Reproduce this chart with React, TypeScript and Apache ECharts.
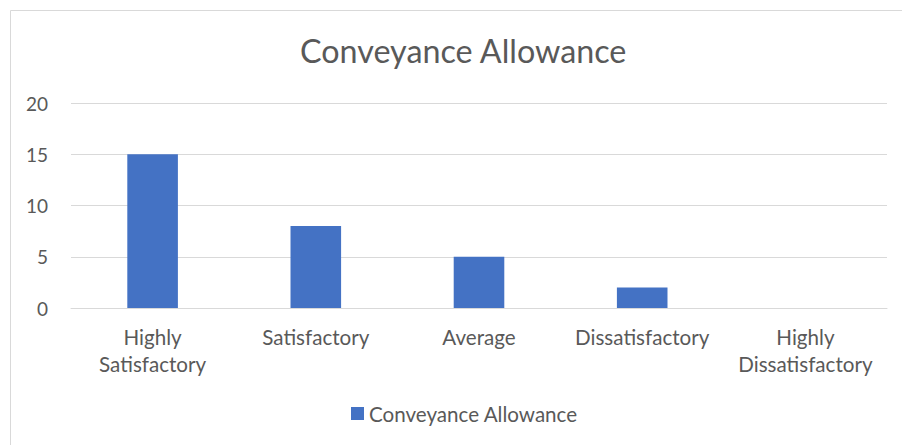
import React, { useEffect, useRef } from "react";
import * as echarts from "echarts";

const categories = ["Highly\nSatisfactory", "Satisfactory", "Average", "Dissatisfactory", "Highly\nDissatisfactory"];
const values = [15, 8, 5, 2, 0];
const seriesName = "Conveyance Allowance";
const titleText = "Conveyance Allowance";

export default function App() {
  const ref = useRef<HTMLDivElement>(null);
  useEffect(() => {
    const chart = echarts.init(ref.current!, null, { renderer: "svg" });
    const font = "Lato, 'Open Sans', sans-serif";
    chart.setOption({
      animation: false,
      backgroundColor: "#ffffff",
      title: {
        text: titleText,
        left: 295,
        top: 29,
        textStyle: { fontFamily: font, fontSize: 32.3, fontWeight: "normal", color: "#595959" },
      },
      graphic: [
        {
          type: "rect",
          shape: { x: 10.5, y: 10.5, width: 920, height: 460 },
          style: { fill: "none", stroke: "#d9d9d9", lineWidth: 1 },
          silent: true,
        },
      ],
      legend: {
        bottom: 16,
        left: 346,
        itemWidth: 13,
        itemHeight: 13,
        itemGap: 6,
        textStyle: { fontFamily: font, fontSize: 20.6, color: "#595959" },
        data: [{ name: seriesName, icon: "rect" }],
      },
      grid: { left: 71, right: 15, top: 103, bottom: 137 },
      xAxis: {
        type: "category",
        data: categories,
        axisLine: { lineStyle: { color: "#d9d9d9" } },
        axisTick: { show: false },
        axisLabel: {
          interval: 0,
          fontFamily: font,
          fontSize: 20.6,
          color: "#595959",
          lineHeight: 27,
          margin: 15,
        },
      },
      yAxis: {
        type: "value",
        min: 0,
        max: 20,
        interval: 5,
        axisLine: { show: false },
        axisTick: { show: false },
        splitLine: { lineStyle: { color: "#d9d9d9" } },
        axisLabel: { fontFamily: font, fontSize: 19, color: "#595959", margin: 23 },
      },
      series: [
        {
          name: seriesName,
          type: "bar",
          data: values,
          barWidth: "31%",
          itemStyle: { color: "#4472c4" },
        },
      ],
    });
    return () => chart.dispose();
  }, []);
  return <div ref={ref} style={{ position: "fixed", left: 0, top: 0, width: 902, height: 445 }} />;
}
